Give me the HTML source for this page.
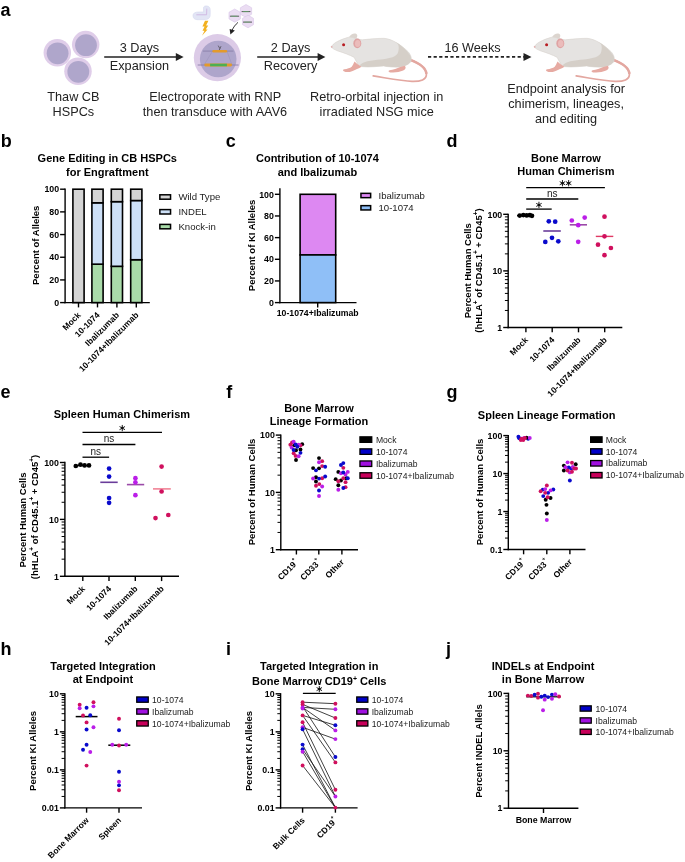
<!DOCTYPE html>
<html><head><meta charset="utf-8"><style>
html,body{margin:0;padding:0;background:#fff;width:685px;height:862px;overflow:hidden}
svg{display:block;will-change:transform}
text{font-family:"Liberation Sans", sans-serif}
</style></head><body>
<svg width="685" height="862" viewBox="0 0 685 862" font-family='"Liberation Sans", sans-serif'>
<rect width="685" height="862" fill="#fff"/>
<text x="0.50" y="15.80" font-size="18" font-weight="700" text-anchor="start" fill="#000" >a</text>
<circle cx="57.30" cy="52.70" r="13.75" fill="#dfcde9"/>
<circle cx="57.60" cy="53.30" r="10.9" fill="#afa6cb"/>
<circle cx="85.70" cy="44.60" r="13.75" fill="#dfcde9"/>
<circle cx="86.00" cy="45.20" r="10.9" fill="#afa6cb"/>
<circle cx="78.00" cy="71.20" r="13.75" fill="#dfcde9"/>
<circle cx="78.30" cy="71.80" r="10.9" fill="#afa6cb"/>
<text x="73.40" y="100.60" font-size="12.7" font-weight="400" text-anchor="middle" fill="#222" >Thaw CB</text>
<text x="73.40" y="116.00" font-size="12.7" font-weight="400" text-anchor="middle" fill="#222" >HSPCs</text>
<line x1="104.20" y1="57.00" x2="178.60" y2="57.00" stroke="#222" stroke-width="1.6" />
<path d="M183.60,57.00 L175.80,53.10 L175.80,60.90 Z" fill="#222"/>
<text x="139.40" y="52.20" font-size="12.7" font-weight="400" text-anchor="middle" fill="#222" >3 Days</text>
<text x="139.40" y="70.30" font-size="12.7" font-weight="400" text-anchor="middle" fill="#222" >Expansion</text>
<line x1="257.20" y1="57.00" x2="320.40" y2="57.00" stroke="#222" stroke-width="1.6" />
<path d="M325.40,57.00 L317.60,53.10 L317.60,60.90 Z" fill="#222"/>
<text x="290.60" y="52.20" font-size="12.7" font-weight="400" text-anchor="middle" fill="#222" >2 Days</text>
<text x="290.60" y="70.30" font-size="12.7" font-weight="400" text-anchor="middle" fill="#222" >Recovery</text>
<line x1="428" y1="56.9" x2="524" y2="56.9" stroke="#222" stroke-width="1.6" stroke-dasharray="3.2,2.4"/>
<path d="M531.5,56.9 L523.5,52.9 L523.5,60.9 Z" fill="#222"/>
<text x="472.50" y="51.50" font-size="12.7" font-weight="400" text-anchor="middle" fill="#222" >16 Weeks</text>
<text x="215.20" y="100.90" font-size="12.7" font-weight="400" text-anchor="middle" fill="#222" >Electroporate with RNP</text>
<text x="215.00" y="115.90" font-size="12.7" font-weight="400" text-anchor="middle" fill="#222" >then transduce with AAV6</text>
<text x="376.70" y="100.60" font-size="12.7" font-weight="400" text-anchor="middle" fill="#222" >Retro-orbital injection in</text>
<text x="376.70" y="115.90" font-size="12.7" font-weight="400" text-anchor="middle" fill="#222" >irradiated NSG mice</text>
<text x="566.10" y="92.50" font-size="12.7" font-weight="400" text-anchor="middle" fill="#222" >Endpoint analysis for</text>
<text x="566.10" y="108.00" font-size="12.7" font-weight="400" text-anchor="middle" fill="#222" >chimerism, lineages,</text>
<text x="566.10" y="123.20" font-size="12.7" font-weight="400" text-anchor="middle" fill="#222" >and editing</text>
<circle cx="217.40" cy="57.70" r="23.6" fill="#dccbe7"/>
<circle cx="218.20" cy="59.00" r="18.3" fill="#aea5cb"/>
<path d="M212.5,51.2 L204,65 M227,51.2 L232,65" stroke="#9a90b8" stroke-width="0.5" fill="none"/>
<line x1="202.80" y1="51.10" x2="233.50" y2="51.10" stroke="#8a80a8" stroke-width="0.9" />
<rect x="212.3" y="49.9" width="14.9" height="2.6" rx="1.2" fill="#e39a2c"/>
<path d="M219.3,50 L221,46.2 M219.8,48.5 L218.2,45.6" stroke="#333" stroke-width="0.6" fill="none"/>
<line x1="197.70" y1="65.00" x2="238.60" y2="65.00" stroke="#8a80a8" stroke-width="0.9" />
<rect x="204.3" y="63.6" width="27.7" height="2.8" rx="1.3" fill="#e39a2c"/>
<rect x="210.1" y="63.7" width="16.8" height="2.6" fill="#4caf50"/>
<path d="M193,15.6 C193,12.6 196,11.9 200,12 L203.6,12 L203.5,8 C203.5,6.1 205.4,5.8 207,6 C209.4,6.3 210.2,8 210.2,10.2 L210.2,14.6 C210.2,18.2 208,19.7 204,19.7 L197.2,19.7 C194.6,19.7 193,18.1 193,15.6 Z" fill="#e2e5f5" stroke="#d3d6ee" stroke-width="0.6"/>
<path d="M196.3,14.8 L206.6,14.8 L206.8,8.6" stroke="#cfb6e2" stroke-width="0.9" fill="none"/>
<path d="M205.0,20.8 L208.4,20.8 L206.1,25.4 L208.2,25.4 L205.7,29.6 L207.6,29.6 L202.0,35.8 L204.5,30.8 L202.5,30.8 L204.6,26.6 L202.4,26.6 Z" fill="#f2b01e"/>
<polygon points="234.70,22.20 228.98,18.90 228.98,12.30 234.70,9.00 240.42,12.30 240.42,18.90" fill="#ebddf3" stroke="#d9c6e8" stroke-width="0.6"/>
<line x1="229.90" y1="16.20" x2="239.10" y2="16.20" stroke="#333" stroke-width="0.8"/>
<line x1="231.10" y1="16.20" x2="237.50" y2="16.20" stroke="#5fb866" stroke-width="0.6"/>
<polygon points="246.00,17.50 240.37,14.25 240.37,7.75 246.00,4.50 251.63,7.75 251.63,14.25" fill="#ebddf3" stroke="#d9c6e8" stroke-width="0.6"/>
<line x1="241.60" y1="11.60" x2="250.40" y2="11.60" stroke="#333" stroke-width="0.8"/>
<line x1="242.80" y1="11.60" x2="248.80" y2="11.60" stroke="#5fb866" stroke-width="0.6"/>
<polygon points="248.00,27.80 242.54,24.65 242.54,18.35 248.00,15.20 253.46,18.35 253.46,24.65" fill="#ebddf3" stroke="#d9c6e8" stroke-width="0.6"/>
<line x1="243.00" y1="22.10" x2="252.00" y2="22.10" stroke="#333" stroke-width="0.8"/>
<line x1="244.20" y1="22.10" x2="250.40" y2="22.10" stroke="#5fb866" stroke-width="0.6"/>
<path d="M238.0,22.4 C235.5,24.5 233.2,27.5 232.2,30.2" stroke="#222" stroke-width="0.9" fill="none"/>
<path d="M230.4,34.4 L229.6,29.0 L234.9,30.6 Z" fill="#222"/>
<g>
<path d="M409.6,59.6 C419,63 426,67.8 426.4,73.8 C426.8,79.8 420.5,81.6 412,81.4 C402,81 390,78.6 373.2,75.9" stroke="#e3a7a0" stroke-width="1.7" fill="none" stroke-linecap="round"/><path d="M409.6,59.6 C419,63 426,67.8 426.4,73.8" stroke="#e3a7a0" stroke-width="2.5" fill="none"/>
<path d="M331.3,46.8 C333,43.5 338,40.7 344.2,38.6 C346,38 348.5,37.3 349.9,36.8 C354,37.5 358,39.6 362.2,39.8 C368,39.3 376,38.3 383.8,38.3 C392,38.8 401,44.8 408.3,51.9 C411,55 412.2,59 410.7,61.7 C409.2,63.8 406.8,65.3 401.3,66.9 C395,67.7 388,66.7 383.8,66 C378,66.1 370,67.7 361.3,66.6 L358.2,64.6 C356.4,62.2 355.3,59.4 354.2,57.4 C350.2,55.2 343.4,52.7 338,51 C335,49.9 332.1,48.5 331.3,46.8 Z" fill="#e5e3e1" stroke="#d3ccc6" stroke-width="0.5"/>
<path d="M395.2,41.8 C402,45.8 408,51.5 410.5,56 C411.6,59 411.2,61 410.2,62.2 C408.6,64.2 406.6,65.3 401.3,66.8 C395,67.6 388,66.6 383.8,65.9 C378,66 370,67.6 361.3,66.5 L359.6,65.2 C361.3,63.6 364.5,62 367.4,61.3 C372,60.3 376,60 380.6,59.5 C384,59 388,58.4 392.5,57.2 C395.5,56 397.6,54.5 398,52.6 C398.8,50 398.9,47.5 398.5,45.5 C397.8,43.6 396.8,42.6 395.2,41.8 Z" fill="#d5cfc8"/>
<path d="M354.6,61.6 C356.4,63.8 359,65.3 361.3,66.6 C360.8,67.8 357,69.2 352,71.2 C349,72.3 346,72.4 343.8,71.2 C342.6,70.5 342.9,69.4 344.3,69.2 C347.3,69 350,68.1 351.7,66.8 C353,65.3 353.6,63.4 354.6,61.6 Z" fill="#e6aaa2"/>
<path d="M404.8,65.8 C406.3,67.2 405.9,69.2 403.2,70.6 C399.4,72.2 394.6,73 390.2,72.4 C388.2,71.9 387.9,70.5 389.6,70.2 C393.2,69.7 397.2,68.6 400.2,67 Z" fill="#e6aaa2"/>
<path d="M349.4,37.1 C350.4,34.6 352.8,33.2 355.4,33.5 C357.6,33.9 357.8,36.4 356.2,38.6 Z" fill="#dcd5cf"/>
<ellipse cx="357.3" cy="43.4" rx="4.0" ry="4.8" fill="#dfa3a3"/>
<ellipse cx="357.7" cy="43.6" rx="2.7" ry="3.5" fill="#ebbcbb"/>
<circle cx="343.6" cy="44.8" r="1.5" fill="#b81c22"/>
<circle cx="331.7" cy="46.8" r="0.9" fill="#e4b0ae"/>
</g>
<g transform="translate(203,0)">
<path d="M409.6,59.6 C419,63 426,67.8 426.4,73.8 C426.8,79.8 420.5,81.6 412,81.4 C402,81 390,78.6 373.2,75.9" stroke="#e3a7a0" stroke-width="1.7" fill="none" stroke-linecap="round"/><path d="M409.6,59.6 C419,63 426,67.8 426.4,73.8" stroke="#e3a7a0" stroke-width="2.5" fill="none"/>
<path d="M331.3,46.8 C333,43.5 338,40.7 344.2,38.6 C346,38 348.5,37.3 349.9,36.8 C354,37.5 358,39.6 362.2,39.8 C368,39.3 376,38.3 383.8,38.3 C392,38.8 401,44.8 408.3,51.9 C411,55 412.2,59 410.7,61.7 C409.2,63.8 406.8,65.3 401.3,66.9 C395,67.7 388,66.7 383.8,66 C378,66.1 370,67.7 361.3,66.6 L358.2,64.6 C356.4,62.2 355.3,59.4 354.2,57.4 C350.2,55.2 343.4,52.7 338,51 C335,49.9 332.1,48.5 331.3,46.8 Z" fill="#e5e3e1" stroke="#d3ccc6" stroke-width="0.5"/>
<path d="M395.2,41.8 C402,45.8 408,51.5 410.5,56 C411.6,59 411.2,61 410.2,62.2 C408.6,64.2 406.6,65.3 401.3,66.8 C395,67.6 388,66.6 383.8,65.9 C378,66 370,67.6 361.3,66.5 L359.6,65.2 C361.3,63.6 364.5,62 367.4,61.3 C372,60.3 376,60 380.6,59.5 C384,59 388,58.4 392.5,57.2 C395.5,56 397.6,54.5 398,52.6 C398.8,50 398.9,47.5 398.5,45.5 C397.8,43.6 396.8,42.6 395.2,41.8 Z" fill="#d5cfc8"/>
<path d="M354.6,61.6 C356.4,63.8 359,65.3 361.3,66.6 C360.8,67.8 357,69.2 352,71.2 C349,72.3 346,72.4 343.8,71.2 C342.6,70.5 342.9,69.4 344.3,69.2 C347.3,69 350,68.1 351.7,66.8 C353,65.3 353.6,63.4 354.6,61.6 Z" fill="#e6aaa2"/>
<path d="M404.8,65.8 C406.3,67.2 405.9,69.2 403.2,70.6 C399.4,72.2 394.6,73 390.2,72.4 C388.2,71.9 387.9,70.5 389.6,70.2 C393.2,69.7 397.2,68.6 400.2,67 Z" fill="#e6aaa2"/>
<path d="M349.4,37.1 C350.4,34.6 352.8,33.2 355.4,33.5 C357.6,33.9 357.8,36.4 356.2,38.6 Z" fill="#dcd5cf"/>
<ellipse cx="357.3" cy="43.4" rx="4.0" ry="4.8" fill="#dfa3a3"/>
<ellipse cx="357.7" cy="43.6" rx="2.7" ry="3.5" fill="#ebbcbb"/>
<circle cx="343.6" cy="44.8" r="1.5" fill="#b81c22"/>
<circle cx="331.7" cy="46.8" r="0.9" fill="#e4b0ae"/>
</g>
<text x="0.80" y="146.80" font-size="18" font-weight="700" text-anchor="start" fill="#000" >b</text>
<text x="107.30" y="162.40" font-size="11" font-weight="700" text-anchor="middle" fill="#000" >Gene Editing in CB HSPCs</text>
<text x="107.30" y="175.90" font-size="11" font-weight="700" text-anchor="middle" fill="#000" >for Engraftment</text>
<line x1="65.10" y1="188.55" x2="65.10" y2="303.25" stroke="#000" stroke-width="1.4" />
<line x1="64.45" y1="302.60" x2="149.80" y2="302.60" stroke="#000" stroke-width="1.4" />
<line x1="60.10" y1="302.60" x2="65.10" y2="302.60" stroke="#000" stroke-width="1.4" />
<text x="59.10" y="305.80" font-size="8.8" font-weight="700" text-anchor="end" fill="#000" >0</text>
<line x1="60.10" y1="279.92" x2="65.10" y2="279.92" stroke="#000" stroke-width="1.4" />
<text x="59.10" y="283.12" font-size="8.8" font-weight="700" text-anchor="end" fill="#000" >20</text>
<line x1="60.10" y1="257.24" x2="65.10" y2="257.24" stroke="#000" stroke-width="1.4" />
<text x="59.10" y="260.44" font-size="8.8" font-weight="700" text-anchor="end" fill="#000" >40</text>
<line x1="60.10" y1="234.56" x2="65.10" y2="234.56" stroke="#000" stroke-width="1.4" />
<text x="59.10" y="237.76" font-size="8.8" font-weight="700" text-anchor="end" fill="#000" >60</text>
<line x1="60.10" y1="211.88" x2="65.10" y2="211.88" stroke="#000" stroke-width="1.4" />
<text x="59.10" y="215.08" font-size="8.8" font-weight="700" text-anchor="end" fill="#000" >80</text>
<line x1="60.10" y1="189.20" x2="65.10" y2="189.20" stroke="#000" stroke-width="1.4" />
<text x="59.10" y="192.40" font-size="8.8" font-weight="700" text-anchor="end" fill="#000" >100</text>
<rect x="72.90" y="189.20" width="11.20" height="113.40" fill="#d4d4d4" stroke="#000" stroke-width="1.6"/>
<rect x="91.90" y="264.16" width="11.20" height="38.44" fill="#a9dba9" stroke="#000" stroke-width="1.6"/>
<rect x="91.90" y="202.81" width="11.20" height="61.35" fill="#cde0f7" stroke="#000" stroke-width="1.6"/>
<rect x="91.90" y="189.20" width="11.20" height="13.61" fill="#d4d4d4" stroke="#000" stroke-width="1.6"/>
<rect x="111.30" y="266.31" width="11.20" height="36.29" fill="#a9dba9" stroke="#000" stroke-width="1.6"/>
<rect x="111.30" y="201.67" width="11.20" height="64.64" fill="#cde0f7" stroke="#000" stroke-width="1.6"/>
<rect x="111.30" y="189.20" width="11.20" height="12.47" fill="#d4d4d4" stroke="#000" stroke-width="1.6"/>
<rect x="130.70" y="259.73" width="11.20" height="42.87" fill="#a9dba9" stroke="#000" stroke-width="1.6"/>
<rect x="130.70" y="200.54" width="11.20" height="59.19" fill="#cde0f7" stroke="#000" stroke-width="1.6"/>
<rect x="130.70" y="189.20" width="11.20" height="11.34" fill="#d4d4d4" stroke="#000" stroke-width="1.6"/>
<line x1="78.50" y1="302.60" x2="78.50" y2="307.40" stroke="#000" stroke-width="1.4" />
<line x1="97.50" y1="302.60" x2="97.50" y2="307.40" stroke="#000" stroke-width="1.4" />
<line x1="116.90" y1="302.60" x2="116.90" y2="307.40" stroke="#000" stroke-width="1.4" />
<line x1="136.30" y1="302.60" x2="136.30" y2="307.40" stroke="#000" stroke-width="1.4" />
<text x="81.30" y="315.60" font-size="8.5" font-weight="700" text-anchor="end" fill="#000" transform="rotate(-45 81.30 315.60)" >Mock</text>
<text x="100.30" y="315.60" font-size="8.5" font-weight="700" text-anchor="end" fill="#000" transform="rotate(-45 100.30 315.60)" >10-1074</text>
<text x="119.70" y="315.60" font-size="8.5" font-weight="700" text-anchor="end" fill="#000" transform="rotate(-45 119.70 315.60)" >Ibalizumab</text>
<text x="139.10" y="315.60" font-size="8.5" font-weight="700" text-anchor="end" fill="#000" transform="rotate(-45 139.10 315.60)" >10-1074+Ibalizumab</text>
<text x="38.80" y="245.30" font-size="9.5" font-weight="700" text-anchor="middle" fill="#000" transform="rotate(-90 38.80 245.30)" >Percent of Alleles</text>
<rect x="159.85" y="194.80" width="10.70" height="4.40" fill="#d4d4d4" stroke="#000" stroke-width="1.5"/>
<text x="178.40" y="200.10" font-size="9.6" font-weight="400" text-anchor="start" fill="#222" >Wild Type</text>
<rect x="159.85" y="209.60" width="10.70" height="4.40" fill="#cde0f7" stroke="#000" stroke-width="1.5"/>
<text x="178.40" y="214.90" font-size="9.6" font-weight="400" text-anchor="start" fill="#222" >INDEL</text>
<rect x="159.85" y="224.40" width="10.70" height="4.40" fill="#a9dba9" stroke="#000" stroke-width="1.5"/>
<text x="178.40" y="229.70" font-size="9.6" font-weight="400" text-anchor="start" fill="#222" >Knock-in</text>
<text x="225.80" y="146.80" font-size="18" font-weight="700" text-anchor="start" fill="#000" >c</text>
<text x="317.40" y="162.40" font-size="11" font-weight="700" text-anchor="middle" fill="#000" >Contribution of 10-1074</text>
<text x="317.40" y="175.90" font-size="11" font-weight="700" text-anchor="middle" fill="#000" >and Ibalizumab</text>
<line x1="279.90" y1="188.20" x2="279.90" y2="303.25" stroke="#000" stroke-width="1.4" />
<line x1="279.25" y1="302.60" x2="356.50" y2="302.60" stroke="#000" stroke-width="1.4" />
<line x1="274.90" y1="302.60" x2="279.90" y2="302.60" stroke="#000" stroke-width="1.4" />
<text x="273.90" y="305.80" font-size="8.8" font-weight="700" text-anchor="end" fill="#000" >0</text>
<line x1="274.90" y1="280.94" x2="279.90" y2="280.94" stroke="#000" stroke-width="1.4" />
<text x="273.90" y="284.14" font-size="8.8" font-weight="700" text-anchor="end" fill="#000" >20</text>
<line x1="274.90" y1="259.28" x2="279.90" y2="259.28" stroke="#000" stroke-width="1.4" />
<text x="273.90" y="262.48" font-size="8.8" font-weight="700" text-anchor="end" fill="#000" >40</text>
<line x1="274.90" y1="237.62" x2="279.90" y2="237.62" stroke="#000" stroke-width="1.4" />
<text x="273.90" y="240.82" font-size="8.8" font-weight="700" text-anchor="end" fill="#000" >60</text>
<line x1="274.90" y1="215.96" x2="279.90" y2="215.96" stroke="#000" stroke-width="1.4" />
<text x="273.90" y="219.16" font-size="8.8" font-weight="700" text-anchor="end" fill="#000" >80</text>
<line x1="274.90" y1="194.30" x2="279.90" y2="194.30" stroke="#000" stroke-width="1.4" />
<text x="273.90" y="197.50" font-size="8.8" font-weight="700" text-anchor="end" fill="#000" >100</text>
<rect x="300.10" y="194.30" width="35.60" height="60.65" fill="#dd88f2" stroke="#000" stroke-width="1.6"/>
<rect x="300.10" y="254.95" width="35.60" height="47.65" fill="#8fbff7" stroke="#000" stroke-width="1.6"/>
<line x1="317.70" y1="302.60" x2="317.70" y2="307.40" stroke="#000" stroke-width="1.4" />
<text x="317.70" y="316.40" font-size="8.7" font-weight="700" text-anchor="middle" fill="#000" >10-1074+Ibalizumab</text>
<text x="255.00" y="245.40" font-size="9.5" font-weight="700" text-anchor="middle" fill="#000" transform="rotate(-90 255.00 245.40)" >Percent of KI Alleles</text>
<rect x="360.95" y="193.35" width="9.70" height="4.30" fill="#dd88f2" stroke="#000" stroke-width="1.5"/>
<text x="378.50" y="198.60" font-size="9.6" font-weight="400" text-anchor="start" fill="#222" >Ibalizumab</text>
<rect x="360.95" y="205.65" width="9.70" height="4.30" fill="#8fbff7" stroke="#000" stroke-width="1.5"/>
<text x="378.50" y="210.90" font-size="9.6" font-weight="400" text-anchor="start" fill="#222" >10-1074</text>
<text x="446.50" y="146.80" font-size="18" font-weight="700" text-anchor="start" fill="#000" >d</text>
<text x="565.90" y="162.00" font-size="11" font-weight="700" text-anchor="middle" fill="#000" >Bone Marrow</text>
<text x="565.90" y="175.20" font-size="11" font-weight="700" text-anchor="middle" fill="#000" >Human Chimerism</text>
<line x1="508.20" y1="213.65" x2="508.20" y2="328.15" stroke="#000" stroke-width="1.4" />
<line x1="507.55" y1="327.50" x2="622.30" y2="327.50" stroke="#000" stroke-width="1.4" />
<line x1="503.20" y1="327.50" x2="508.20" y2="327.50" stroke="#000" stroke-width="1.4" />
<text x="502.20" y="330.70" font-size="8.8" font-weight="700" text-anchor="end" fill="#000" >1</text>
<line x1="504.90" y1="310.46" x2="508.20" y2="310.46" stroke="#000" stroke-width="1.0" />
<line x1="504.90" y1="300.49" x2="508.20" y2="300.49" stroke="#000" stroke-width="1.0" />
<line x1="504.90" y1="293.42" x2="508.20" y2="293.42" stroke="#000" stroke-width="1.0" />
<line x1="504.90" y1="287.94" x2="508.20" y2="287.94" stroke="#000" stroke-width="1.0" />
<line x1="504.90" y1="283.46" x2="508.20" y2="283.46" stroke="#000" stroke-width="1.0" />
<line x1="504.90" y1="279.67" x2="508.20" y2="279.67" stroke="#000" stroke-width="1.0" />
<line x1="504.90" y1="276.39" x2="508.20" y2="276.39" stroke="#000" stroke-width="1.0" />
<line x1="504.90" y1="273.49" x2="508.20" y2="273.49" stroke="#000" stroke-width="1.0" />
<line x1="503.20" y1="270.90" x2="508.20" y2="270.90" stroke="#000" stroke-width="1.4" />
<text x="502.20" y="274.10" font-size="8.8" font-weight="700" text-anchor="end" fill="#000" >10</text>
<line x1="504.90" y1="253.86" x2="508.20" y2="253.86" stroke="#000" stroke-width="1.0" />
<line x1="504.90" y1="243.89" x2="508.20" y2="243.89" stroke="#000" stroke-width="1.0" />
<line x1="504.90" y1="236.82" x2="508.20" y2="236.82" stroke="#000" stroke-width="1.0" />
<line x1="504.90" y1="231.34" x2="508.20" y2="231.34" stroke="#000" stroke-width="1.0" />
<line x1="504.90" y1="226.86" x2="508.20" y2="226.86" stroke="#000" stroke-width="1.0" />
<line x1="504.90" y1="223.07" x2="508.20" y2="223.07" stroke="#000" stroke-width="1.0" />
<line x1="504.90" y1="219.79" x2="508.20" y2="219.79" stroke="#000" stroke-width="1.0" />
<line x1="504.90" y1="216.89" x2="508.20" y2="216.89" stroke="#000" stroke-width="1.0" />
<line x1="503.20" y1="214.30" x2="508.20" y2="214.30" stroke="#000" stroke-width="1.4" />
<text x="502.20" y="217.50" font-size="8.8" font-weight="700" text-anchor="end" fill="#000" >100</text>
<line x1="525.90" y1="327.50" x2="525.90" y2="332.30" stroke="#000" stroke-width="1.4" />
<line x1="552.20" y1="327.50" x2="552.20" y2="332.30" stroke="#000" stroke-width="1.4" />
<line x1="578.50" y1="327.50" x2="578.50" y2="332.30" stroke="#000" stroke-width="1.4" />
<line x1="604.70" y1="327.50" x2="604.70" y2="332.30" stroke="#000" stroke-width="1.4" />
<text x="528.70" y="340.50" font-size="8.5" font-weight="700" text-anchor="end" fill="#000" transform="rotate(-45 528.70 340.50)" >Mock</text>
<text x="555.00" y="340.50" font-size="8.5" font-weight="700" text-anchor="end" fill="#000" transform="rotate(-45 555.00 340.50)" >10-1074</text>
<text x="581.30" y="340.50" font-size="8.5" font-weight="700" text-anchor="end" fill="#000" transform="rotate(-45 581.30 340.50)" >Ibalizumab</text>
<text x="607.50" y="340.50" font-size="8.5" font-weight="700" text-anchor="end" fill="#000" transform="rotate(-45 607.50 340.50)" >10-1074+Ibalizumab</text>
<line x1="517.00" y1="215.60" x2="534.00" y2="215.60" stroke="#000" stroke-width="1.5" />
<circle cx="519.70" cy="215.60" r="2.35" fill="#000"/>
<circle cx="523.30" cy="215.10" r="2.35" fill="#000"/>
<circle cx="526.70" cy="215.40" r="2.35" fill="#000"/>
<circle cx="529.90" cy="215.20" r="2.35" fill="#000"/>
<circle cx="532.00" cy="215.80" r="2.35" fill="#000"/>
<line x1="543.30" y1="231.00" x2="560.80" y2="231.00" stroke="#6a3c9a" stroke-width="1.6" />
<circle cx="548.80" cy="221.30" r="2.35" fill="#0a0acc"/>
<circle cx="555.20" cy="221.70" r="2.35" fill="#0a0acc"/>
<circle cx="552.00" cy="237.80" r="2.35" fill="#0a0acc"/>
<circle cx="545.30" cy="241.90" r="2.35" fill="#0a0acc"/>
<circle cx="558.30" cy="241.30" r="2.35" fill="#0a0acc"/>
<line x1="569.80" y1="224.80" x2="587.00" y2="224.80" stroke="#9b4aa8" stroke-width="1.6" />
<circle cx="571.80" cy="220.50" r="2.35" fill="#bb1ee8"/>
<circle cx="584.70" cy="217.60" r="2.35" fill="#bb1ee8"/>
<circle cx="578.20" cy="225.20" r="2.35" fill="#bb1ee8"/>
<circle cx="578.20" cy="241.80" r="2.35" fill="#bb1ee8"/>
<line x1="595.80" y1="236.40" x2="613.30" y2="236.40" stroke="#e03a64" stroke-width="1.4" />
<circle cx="604.50" cy="216.70" r="2.35" fill="#d0105e"/>
<circle cx="604.50" cy="236.30" r="2.35" fill="#d0105e"/>
<circle cx="598.00" cy="244.70" r="2.35" fill="#d0105e"/>
<circle cx="610.90" cy="248.00" r="2.35" fill="#d0105e"/>
<circle cx="604.50" cy="255.20" r="2.35" fill="#d0105e"/>
<line x1="526.20" y1="209.10" x2="551.70" y2="209.10" stroke="#000" stroke-width="1.3" />
<path d="M538.95,202.15 L538.95,207.65 M536.57,203.53 L541.33,206.28 M541.33,203.53 L536.57,206.28 " stroke="#111" stroke-width="0.95" fill="none" stroke-linecap="round"/>
<circle cx="538.95" cy="204.90" r="1.25" fill="#111"/>
<line x1="526.20" y1="199.00" x2="578.30" y2="199.00" stroke="#000" stroke-width="1.3" />
<text x="552.25" y="196.70" font-size="10" font-weight="400" text-anchor="middle" fill="#222" >ns</text>
<line x1="526.20" y1="187.60" x2="604.90" y2="187.60" stroke="#000" stroke-width="1.3" />
<path d="M562.45,180.45 L562.45,185.95 M560.07,181.82 L564.83,184.57 M564.83,181.82 L560.07,184.57 " stroke="#111" stroke-width="0.95" fill="none" stroke-linecap="round"/>
<circle cx="562.45" cy="183.20" r="1.25" fill="#111"/>
<path d="M568.65,180.45 L568.65,185.95 M566.27,181.82 L571.03,184.57 M571.03,181.82 L566.27,184.57 " stroke="#111" stroke-width="0.95" fill="none" stroke-linecap="round"/>
<circle cx="568.65" cy="183.20" r="1.25" fill="#111"/>
<text x="470.60" y="270.70" font-size="9.5" font-weight="700" text-anchor="middle" fill="#000" transform="rotate(-90 470.60 270.70)" >Percent Human Cells</text>
<text x="482.00" y="270.50" font-size="9.5" font-weight="700" text-anchor="middle" transform="rotate(-90 482.00 270.50)">(hHLA<tspan font-size="6.3" dy="-4.3">+</tspan><tspan dy="4.3"> of CD45.1</tspan><tspan font-size="6.3" dy="-4.3">+</tspan><tspan dy="4.3"> + CD45</tspan><tspan font-size="6.3" dy="-4.3">+</tspan><tspan dy="4.3">)</tspan></text>
<text x="0.50" y="397.50" font-size="18" font-weight="700" text-anchor="start" fill="#000" >e</text>
<text x="121.90" y="418.30" font-size="11" font-weight="700" text-anchor="middle" fill="#000" >Spleen Human Chimerism</text>
<line x1="64.90" y1="461.85" x2="64.90" y2="576.95" stroke="#000" stroke-width="1.4" />
<line x1="64.25" y1="576.30" x2="179.00" y2="576.30" stroke="#000" stroke-width="1.4" />
<line x1="59.90" y1="576.30" x2="64.90" y2="576.30" stroke="#000" stroke-width="1.4" />
<text x="58.90" y="579.50" font-size="8.8" font-weight="700" text-anchor="end" fill="#000" >1</text>
<line x1="61.60" y1="559.17" x2="64.90" y2="559.17" stroke="#000" stroke-width="1.0" />
<line x1="61.60" y1="549.15" x2="64.90" y2="549.15" stroke="#000" stroke-width="1.0" />
<line x1="61.60" y1="542.04" x2="64.90" y2="542.04" stroke="#000" stroke-width="1.0" />
<line x1="61.60" y1="536.53" x2="64.90" y2="536.53" stroke="#000" stroke-width="1.0" />
<line x1="61.60" y1="532.02" x2="64.90" y2="532.02" stroke="#000" stroke-width="1.0" />
<line x1="61.60" y1="528.21" x2="64.90" y2="528.21" stroke="#000" stroke-width="1.0" />
<line x1="61.60" y1="524.91" x2="64.90" y2="524.91" stroke="#000" stroke-width="1.0" />
<line x1="61.60" y1="522.00" x2="64.90" y2="522.00" stroke="#000" stroke-width="1.0" />
<line x1="59.90" y1="519.40" x2="64.90" y2="519.40" stroke="#000" stroke-width="1.4" />
<text x="58.90" y="522.60" font-size="8.8" font-weight="700" text-anchor="end" fill="#000" >10</text>
<line x1="61.60" y1="502.27" x2="64.90" y2="502.27" stroke="#000" stroke-width="1.0" />
<line x1="61.60" y1="492.25" x2="64.90" y2="492.25" stroke="#000" stroke-width="1.0" />
<line x1="61.60" y1="485.14" x2="64.90" y2="485.14" stroke="#000" stroke-width="1.0" />
<line x1="61.60" y1="479.63" x2="64.90" y2="479.63" stroke="#000" stroke-width="1.0" />
<line x1="61.60" y1="475.12" x2="64.90" y2="475.12" stroke="#000" stroke-width="1.0" />
<line x1="61.60" y1="471.31" x2="64.90" y2="471.31" stroke="#000" stroke-width="1.0" />
<line x1="61.60" y1="468.01" x2="64.90" y2="468.01" stroke="#000" stroke-width="1.0" />
<line x1="61.60" y1="465.10" x2="64.90" y2="465.10" stroke="#000" stroke-width="1.0" />
<line x1="59.90" y1="462.50" x2="64.90" y2="462.50" stroke="#000" stroke-width="1.4" />
<text x="58.90" y="465.70" font-size="8.8" font-weight="700" text-anchor="end" fill="#000" >100</text>
<line x1="82.80" y1="576.30" x2="82.80" y2="581.10" stroke="#000" stroke-width="1.4" />
<line x1="109.00" y1="576.30" x2="109.00" y2="581.10" stroke="#000" stroke-width="1.4" />
<line x1="135.30" y1="576.30" x2="135.30" y2="581.10" stroke="#000" stroke-width="1.4" />
<line x1="161.60" y1="576.30" x2="161.60" y2="581.10" stroke="#000" stroke-width="1.4" />
<text x="85.60" y="589.30" font-size="8.5" font-weight="700" text-anchor="end" fill="#000" transform="rotate(-45 85.60 589.30)" >Mock</text>
<text x="111.80" y="589.30" font-size="8.5" font-weight="700" text-anchor="end" fill="#000" transform="rotate(-45 111.80 589.30)" >10-1074</text>
<text x="138.10" y="589.30" font-size="8.5" font-weight="700" text-anchor="end" fill="#000" transform="rotate(-45 138.10 589.30)" >Ibalizumab</text>
<text x="164.40" y="589.30" font-size="8.5" font-weight="700" text-anchor="end" fill="#000" transform="rotate(-45 164.40 589.30)" >10-1074+Ibalizumab</text>
<line x1="74.00" y1="465.60" x2="91.00" y2="465.60" stroke="#000" stroke-width="1.5" />
<circle cx="75.80" cy="466.00" r="2.35" fill="#000"/>
<circle cx="80.50" cy="464.60" r="2.35" fill="#000"/>
<circle cx="84.60" cy="465.40" r="2.35" fill="#000"/>
<circle cx="89.00" cy="465.40" r="2.35" fill="#000"/>
<line x1="100.30" y1="482.30" x2="117.70" y2="482.30" stroke="#6a3c9a" stroke-width="1.6" />
<circle cx="109.10" cy="468.60" r="2.35" fill="#0a0acc"/>
<circle cx="109.10" cy="476.60" r="2.35" fill="#0a0acc"/>
<circle cx="109.10" cy="498.00" r="2.35" fill="#0a0acc"/>
<circle cx="109.10" cy="502.80" r="2.35" fill="#0a0acc"/>
<line x1="126.90" y1="484.60" x2="144.20" y2="484.60" stroke="#9b4aa8" stroke-width="1.6" />
<circle cx="135.40" cy="478.20" r="2.35" fill="#bb1ee8"/>
<circle cx="135.40" cy="482.30" r="2.35" fill="#bb1ee8"/>
<circle cx="135.40" cy="495.20" r="2.35" fill="#bb1ee8"/>
<line x1="153.00" y1="488.90" x2="170.80" y2="488.90" stroke="#f07a8e" stroke-width="1.5" />
<circle cx="161.60" cy="466.60" r="2.35" fill="#d0105e"/>
<circle cx="161.60" cy="491.50" r="2.35" fill="#d0105e"/>
<circle cx="155.50" cy="518.10" r="2.35" fill="#d0105e"/>
<circle cx="168.30" cy="515.00" r="2.35" fill="#d0105e"/>
<line x1="82.50" y1="457.20" x2="109.10" y2="457.20" stroke="#000" stroke-width="1.3" />
<text x="95.80" y="454.90" font-size="10" font-weight="400" text-anchor="middle" fill="#222" >ns</text>
<line x1="82.50" y1="444.50" x2="135.40" y2="444.50" stroke="#000" stroke-width="1.3" />
<text x="108.95" y="442.20" font-size="10" font-weight="400" text-anchor="middle" fill="#222" >ns</text>
<line x1="82.50" y1="432.30" x2="162.00" y2="432.30" stroke="#000" stroke-width="1.3" />
<path d="M122.25,425.35 L122.25,430.85 M119.87,426.73 L124.63,429.48 M124.63,426.73 L119.87,429.48 " stroke="#111" stroke-width="0.95" fill="none" stroke-linecap="round"/>
<circle cx="122.25" cy="428.10" r="1.25" fill="#111"/>
<text x="26.00" y="520.00" font-size="9.5" font-weight="700" text-anchor="middle" fill="#000" transform="rotate(-90 26.00 520.00)" >Percent Human Cells</text>
<text x="38.00" y="517.00" font-size="9.5" font-weight="700" text-anchor="middle" transform="rotate(-90 38.00 517.00)">(hHLA<tspan font-size="6.3" dy="-4.3">+</tspan><tspan dy="4.3"> of CD45.1</tspan><tspan font-size="6.3" dy="-4.3">+</tspan><tspan dy="4.3"> + CD45</tspan><tspan font-size="6.3" dy="-4.3">+</tspan><tspan dy="4.3">)</tspan></text>
<text x="226.30" y="397.50" font-size="18" font-weight="700" text-anchor="start" fill="#000" >f</text>
<text x="319.00" y="411.80" font-size="11" font-weight="700" text-anchor="middle" fill="#000" >Bone Marrow</text>
<text x="319.00" y="424.80" font-size="11" font-weight="700" text-anchor="middle" fill="#000" >Lineage Formation</text>
<line x1="280.80" y1="434.45" x2="280.80" y2="550.35" stroke="#000" stroke-width="1.4" />
<line x1="280.15" y1="549.70" x2="358.00" y2="549.70" stroke="#000" stroke-width="1.4" />
<line x1="275.80" y1="549.70" x2="280.80" y2="549.70" stroke="#000" stroke-width="1.4" />
<text x="274.80" y="552.90" font-size="8.8" font-weight="700" text-anchor="end" fill="#000" >1</text>
<line x1="277.50" y1="532.45" x2="280.80" y2="532.45" stroke="#000" stroke-width="1.0" />
<line x1="277.50" y1="522.36" x2="280.80" y2="522.36" stroke="#000" stroke-width="1.0" />
<line x1="277.50" y1="515.20" x2="280.80" y2="515.20" stroke="#000" stroke-width="1.0" />
<line x1="277.50" y1="509.65" x2="280.80" y2="509.65" stroke="#000" stroke-width="1.0" />
<line x1="277.50" y1="505.11" x2="280.80" y2="505.11" stroke="#000" stroke-width="1.0" />
<line x1="277.50" y1="501.28" x2="280.80" y2="501.28" stroke="#000" stroke-width="1.0" />
<line x1="277.50" y1="497.95" x2="280.80" y2="497.95" stroke="#000" stroke-width="1.0" />
<line x1="277.50" y1="495.02" x2="280.80" y2="495.02" stroke="#000" stroke-width="1.0" />
<line x1="275.80" y1="492.40" x2="280.80" y2="492.40" stroke="#000" stroke-width="1.4" />
<text x="274.80" y="495.60" font-size="8.8" font-weight="700" text-anchor="end" fill="#000" >10</text>
<line x1="277.50" y1="475.15" x2="280.80" y2="475.15" stroke="#000" stroke-width="1.0" />
<line x1="277.50" y1="465.06" x2="280.80" y2="465.06" stroke="#000" stroke-width="1.0" />
<line x1="277.50" y1="457.90" x2="280.80" y2="457.90" stroke="#000" stroke-width="1.0" />
<line x1="277.50" y1="452.35" x2="280.80" y2="452.35" stroke="#000" stroke-width="1.0" />
<line x1="277.50" y1="447.81" x2="280.80" y2="447.81" stroke="#000" stroke-width="1.0" />
<line x1="277.50" y1="443.98" x2="280.80" y2="443.98" stroke="#000" stroke-width="1.0" />
<line x1="277.50" y1="440.65" x2="280.80" y2="440.65" stroke="#000" stroke-width="1.0" />
<line x1="277.50" y1="437.72" x2="280.80" y2="437.72" stroke="#000" stroke-width="1.0" />
<line x1="275.80" y1="435.10" x2="280.80" y2="435.10" stroke="#000" stroke-width="1.4" />
<text x="274.80" y="438.30" font-size="8.8" font-weight="700" text-anchor="end" fill="#000" >100</text>
<line x1="296.40" y1="549.70" x2="296.40" y2="554.50" stroke="#000" stroke-width="1.4" />
<line x1="318.80" y1="549.70" x2="318.80" y2="554.50" stroke="#000" stroke-width="1.4" />
<line x1="341.90" y1="549.70" x2="341.90" y2="554.50" stroke="#000" stroke-width="1.4" />
<text x="255.20" y="492.00" font-size="9.5" font-weight="700" text-anchor="middle" fill="#000" transform="rotate(-90 255.20 492.00)" >Percent of Human Cells</text>
<rect x="359.95" y="436.85" width="11.80" height="5.50" fill="#000" stroke="#000" stroke-width="1.3"/>
<text x="375.90" y="442.70" font-size="8.6" font-weight="400" text-anchor="start" fill="#222" >Mock</text>
<rect x="359.95" y="448.85" width="11.80" height="5.50" fill="#0000c8" stroke="#000" stroke-width="1.3"/>
<text x="375.90" y="454.70" font-size="8.6" font-weight="400" text-anchor="start" fill="#222" >10-1074</text>
<rect x="359.95" y="460.95" width="11.80" height="5.50" fill="#a010e0" stroke="#000" stroke-width="1.3"/>
<text x="375.90" y="466.80" font-size="8.6" font-weight="400" text-anchor="start" fill="#222" >Ibalizumab</text>
<rect x="359.95" y="472.75" width="11.80" height="5.50" fill="#c8005a" stroke="#000" stroke-width="1.3"/>
<text x="375.90" y="478.60" font-size="8.6" font-weight="400" text-anchor="start" fill="#222" >10-1074+Ibalizumab</text>
<circle cx="302.19" cy="444.31" r="1.95" fill="#000"/>
<circle cx="300.48" cy="449.44" r="1.95" fill="#000"/>
<circle cx="296.01" cy="450.23" r="1.95" fill="#000"/>
<circle cx="296.01" cy="459.95" r="1.95" fill="#000"/>
<circle cx="294.31" cy="445.37" r="1.95" fill="#000"/>
<circle cx="290.37" cy="444.71" r="1.95" fill="#d0105e"/>
<circle cx="292.07" cy="442.47" r="1.95" fill="#d0105e"/>
<circle cx="293.65" cy="453.25" r="1.95" fill="#d0105e"/>
<circle cx="295.62" cy="455.88" r="1.95" fill="#d0105e"/>
<circle cx="300.48" cy="445.37" r="1.95" fill="#d0105e"/>
<circle cx="293.65" cy="441.82" r="1.95" fill="#bb1ee8"/>
<circle cx="291.68" cy="447.60" r="1.95" fill="#bb1ee8"/>
<circle cx="298.64" cy="456.27" r="1.95" fill="#bb1ee8"/>
<circle cx="298.64" cy="444.71" r="1.95" fill="#bb1ee8"/>
<circle cx="295.62" cy="444.45" r="1.95" fill="#0a0acc"/>
<circle cx="293.65" cy="449.96" r="1.95" fill="#0a0acc"/>
<circle cx="300.48" cy="452.85" r="1.95" fill="#0a0acc"/>
<circle cx="297.33" cy="446.68" r="1.95" fill="#0a0acc"/>
<circle cx="319.01" cy="458.11" r="1.95" fill="#000"/>
<circle cx="313.10" cy="468.10" r="1.95" fill="#000"/>
<circle cx="319.01" cy="468.36" r="1.95" fill="#000"/>
<circle cx="315.99" cy="477.29" r="1.95" fill="#000"/>
<circle cx="315.99" cy="481.50" r="1.95" fill="#000"/>
<circle cx="322.16" cy="461.13" r="1.95" fill="#d0105e"/>
<circle cx="322.16" cy="466.12" r="1.95" fill="#d0105e"/>
<circle cx="322.16" cy="478.21" r="1.95" fill="#d0105e"/>
<circle cx="315.99" cy="485.70" r="1.95" fill="#d0105e"/>
<circle cx="319.27" cy="484.12" r="1.95" fill="#d0105e"/>
<circle cx="319.01" cy="462.18" r="1.95" fill="#bb1ee8"/>
<circle cx="313.10" cy="478.48" r="1.95" fill="#bb1ee8"/>
<circle cx="322.16" cy="486.49" r="1.95" fill="#bb1ee8"/>
<circle cx="319.01" cy="495.95" r="1.95" fill="#bb1ee8"/>
<circle cx="325.18" cy="466.78" r="1.95" fill="#0a0acc"/>
<circle cx="315.99" cy="470.33" r="1.95" fill="#0a0acc"/>
<circle cx="325.18" cy="476.50" r="1.95" fill="#0a0acc"/>
<circle cx="319.01" cy="478.61" r="1.95" fill="#0a0acc"/>
<circle cx="319.01" cy="490.43" r="1.95" fill="#0a0acc"/>
<circle cx="338.32" cy="471.91" r="1.95" fill="#000"/>
<circle cx="335.69" cy="479.13" r="1.95" fill="#000"/>
<circle cx="340.95" cy="480.45" r="1.95" fill="#000"/>
<circle cx="338.32" cy="485.18" r="1.95" fill="#000"/>
<circle cx="346.21" cy="478.21" r="1.95" fill="#000"/>
<circle cx="343.31" cy="467.83" r="1.95" fill="#d0105e"/>
<circle cx="338.32" cy="481.23" r="1.95" fill="#d0105e"/>
<circle cx="343.31" cy="478.21" r="1.95" fill="#d0105e"/>
<circle cx="345.55" cy="482.15" r="1.95" fill="#d0105e"/>
<circle cx="345.55" cy="487.15" r="1.95" fill="#d0105e"/>
<circle cx="340.95" cy="473.22" r="1.95" fill="#bb1ee8"/>
<circle cx="347.78" cy="471.91" r="1.95" fill="#bb1ee8"/>
<circle cx="345.55" cy="474.53" r="1.95" fill="#bb1ee8"/>
<circle cx="338.32" cy="489.77" r="1.95" fill="#bb1ee8"/>
<circle cx="340.95" cy="465.07" r="1.95" fill="#0a0acc"/>
<circle cx="343.31" cy="463.10" r="1.95" fill="#0a0acc"/>
<circle cx="343.31" cy="472.56" r="1.95" fill="#0a0acc"/>
<circle cx="347.78" cy="478.21" r="1.95" fill="#0a0acc"/>
<circle cx="343.31" cy="488.07" r="1.95" fill="#0a0acc"/>
<text x="299.20" y="562.70" font-size="8.5" font-weight="700" text-anchor="end" transform="rotate(-45 299.20 562.70)">CD19<tspan font-size="5.5" dx="0.4" dy="-5.0">+</tspan></text>
<text x="321.60" y="562.70" font-size="8.5" font-weight="700" text-anchor="end" transform="rotate(-45 321.60 562.70)">CD33<tspan font-size="5.5" dx="0.4" dy="-5.0">+</tspan></text>
<text x="344.70" y="562.70" font-size="8.5" font-weight="700" text-anchor="end" transform="rotate(-45 344.70 562.70)">Other</text>
<text x="446.50" y="397.50" font-size="18" font-weight="700" text-anchor="start" fill="#000" >g</text>
<text x="546.60" y="419.40" font-size="11" font-weight="700" text-anchor="middle" fill="#000" >Spleen Lineage Formation</text>
<line x1="508.30" y1="434.94" x2="508.30" y2="550.15" stroke="#000" stroke-width="1.4" />
<line x1="507.65" y1="549.50" x2="585.50" y2="549.50" stroke="#000" stroke-width="1.4" />
<line x1="503.30" y1="549.50" x2="508.30" y2="549.50" stroke="#000" stroke-width="1.4" />
<text x="502.30" y="552.70" font-size="8.8" font-weight="700" text-anchor="end" fill="#000" >0.1</text>
<line x1="505.00" y1="538.07" x2="508.30" y2="538.07" stroke="#000" stroke-width="1.0" />
<line x1="505.00" y1="531.38" x2="508.30" y2="531.38" stroke="#000" stroke-width="1.0" />
<line x1="505.00" y1="526.64" x2="508.30" y2="526.64" stroke="#000" stroke-width="1.0" />
<line x1="505.00" y1="522.96" x2="508.30" y2="522.96" stroke="#000" stroke-width="1.0" />
<line x1="505.00" y1="519.95" x2="508.30" y2="519.95" stroke="#000" stroke-width="1.0" />
<line x1="505.00" y1="517.41" x2="508.30" y2="517.41" stroke="#000" stroke-width="1.0" />
<line x1="505.00" y1="515.21" x2="508.30" y2="515.21" stroke="#000" stroke-width="1.0" />
<line x1="505.00" y1="513.27" x2="508.30" y2="513.27" stroke="#000" stroke-width="1.0" />
<line x1="503.30" y1="511.53" x2="508.30" y2="511.53" stroke="#000" stroke-width="1.4" />
<text x="502.30" y="514.73" font-size="8.8" font-weight="700" text-anchor="end" fill="#000" >1</text>
<line x1="505.00" y1="500.10" x2="508.30" y2="500.10" stroke="#000" stroke-width="1.0" />
<line x1="505.00" y1="493.41" x2="508.30" y2="493.41" stroke="#000" stroke-width="1.0" />
<line x1="505.00" y1="488.67" x2="508.30" y2="488.67" stroke="#000" stroke-width="1.0" />
<line x1="505.00" y1="484.99" x2="508.30" y2="484.99" stroke="#000" stroke-width="1.0" />
<line x1="505.00" y1="481.98" x2="508.30" y2="481.98" stroke="#000" stroke-width="1.0" />
<line x1="505.00" y1="479.44" x2="508.30" y2="479.44" stroke="#000" stroke-width="1.0" />
<line x1="505.00" y1="477.24" x2="508.30" y2="477.24" stroke="#000" stroke-width="1.0" />
<line x1="505.00" y1="475.30" x2="508.30" y2="475.30" stroke="#000" stroke-width="1.0" />
<line x1="503.30" y1="473.56" x2="508.30" y2="473.56" stroke="#000" stroke-width="1.4" />
<text x="502.30" y="476.76" font-size="8.8" font-weight="700" text-anchor="end" fill="#000" >10</text>
<line x1="505.00" y1="462.13" x2="508.30" y2="462.13" stroke="#000" stroke-width="1.0" />
<line x1="505.00" y1="455.44" x2="508.30" y2="455.44" stroke="#000" stroke-width="1.0" />
<line x1="505.00" y1="450.70" x2="508.30" y2="450.70" stroke="#000" stroke-width="1.0" />
<line x1="505.00" y1="447.02" x2="508.30" y2="447.02" stroke="#000" stroke-width="1.0" />
<line x1="505.00" y1="444.01" x2="508.30" y2="444.01" stroke="#000" stroke-width="1.0" />
<line x1="505.00" y1="441.47" x2="508.30" y2="441.47" stroke="#000" stroke-width="1.0" />
<line x1="505.00" y1="439.27" x2="508.30" y2="439.27" stroke="#000" stroke-width="1.0" />
<line x1="505.00" y1="437.33" x2="508.30" y2="437.33" stroke="#000" stroke-width="1.0" />
<line x1="503.30" y1="435.59" x2="508.30" y2="435.59" stroke="#000" stroke-width="1.4" />
<text x="502.30" y="438.79" font-size="8.8" font-weight="700" text-anchor="end" fill="#000" >100</text>
<line x1="523.60" y1="549.50" x2="523.60" y2="554.30" stroke="#000" stroke-width="1.4" />
<line x1="546.80" y1="549.50" x2="546.80" y2="554.30" stroke="#000" stroke-width="1.4" />
<line x1="569.90" y1="549.50" x2="569.90" y2="554.30" stroke="#000" stroke-width="1.4" />
<text x="483.20" y="492.00" font-size="9.5" font-weight="700" text-anchor="middle" fill="#000" transform="rotate(-90 483.20 492.00)" >Percent of Human Cells</text>
<rect x="590.65" y="436.85" width="11.40" height="5.50" fill="#000" stroke="#000" stroke-width="1.3"/>
<text x="605.80" y="442.70" font-size="8.6" font-weight="400" text-anchor="start" fill="#222" >Mock</text>
<rect x="590.65" y="448.75" width="11.40" height="5.50" fill="#0000c8" stroke="#000" stroke-width="1.3"/>
<text x="605.80" y="454.60" font-size="8.6" font-weight="400" text-anchor="start" fill="#222" >10-1074</text>
<rect x="590.65" y="460.55" width="11.40" height="5.50" fill="#a010e0" stroke="#000" stroke-width="1.3"/>
<text x="605.80" y="466.40" font-size="8.6" font-weight="400" text-anchor="start" fill="#222" >Ibalizumab</text>
<rect x="590.65" y="472.45" width="11.40" height="5.50" fill="#c8005a" stroke="#000" stroke-width="1.3"/>
<text x="605.80" y="478.30" font-size="8.6" font-weight="400" text-anchor="start" fill="#222" >10-1074+Ibalizumab</text>
<circle cx="518.41" cy="436.69" r="1.95" fill="#0a0acc"/>
<circle cx="519.22" cy="438.31" r="1.95" fill="#0a0acc"/>
<circle cx="528.15" cy="438.80" r="1.95" fill="#0a0acc"/>
<circle cx="526.53" cy="437.66" r="1.95" fill="#000"/>
<circle cx="529.77" cy="437.99" r="1.95" fill="#bb1ee8"/>
<circle cx="524.09" cy="437.99" r="1.95" fill="#bb1ee8"/>
<circle cx="521.66" cy="438.80" r="1.95" fill="#d0105e"/>
<circle cx="523.28" cy="439.94" r="1.95" fill="#d0105e"/>
<circle cx="524.90" cy="437.99" r="1.95" fill="#d0105e"/>
<circle cx="520.84" cy="439.94" r="1.95" fill="#d0105e"/>
<circle cx="545.68" cy="499.68" r="1.95" fill="#000"/>
<circle cx="550.55" cy="498.05" r="1.95" fill="#000"/>
<circle cx="546.49" cy="504.87" r="1.95" fill="#000"/>
<circle cx="546.82" cy="513.47" r="1.95" fill="#000"/>
<circle cx="542.76" cy="489.61" r="1.95" fill="#0a0acc"/>
<circle cx="553.31" cy="489.45" r="1.95" fill="#0a0acc"/>
<circle cx="548.12" cy="492.86" r="1.95" fill="#0a0acc"/>
<circle cx="543.25" cy="496.10" r="1.95" fill="#0a0acc"/>
<circle cx="545.19" cy="489.12" r="1.95" fill="#bb1ee8"/>
<circle cx="550.55" cy="490.42" r="1.95" fill="#bb1ee8"/>
<circle cx="546.82" cy="519.97" r="1.95" fill="#bb1ee8"/>
<circle cx="546.82" cy="485.55" r="1.95" fill="#d0105e"/>
<circle cx="540.65" cy="491.23" r="1.95" fill="#d0105e"/>
<circle cx="545.19" cy="492.86" r="1.95" fill="#d0105e"/>
<circle cx="547.63" cy="497.24" r="1.95" fill="#d0105e"/>
<circle cx="563.86" cy="465.58" r="1.95" fill="#000"/>
<circle cx="575.71" cy="464.29" r="1.95" fill="#000"/>
<circle cx="563.86" cy="470.45" r="1.95" fill="#000"/>
<circle cx="568.73" cy="467.53" r="1.95" fill="#0a0acc"/>
<circle cx="571.17" cy="468.51" r="1.95" fill="#0a0acc"/>
<circle cx="569.87" cy="480.52" r="1.95" fill="#0a0acc"/>
<circle cx="567.60" cy="462.34" r="1.95" fill="#bb1ee8"/>
<circle cx="565.49" cy="467.21" r="1.95" fill="#bb1ee8"/>
<circle cx="569.87" cy="472.40" r="1.95" fill="#bb1ee8"/>
<circle cx="572.79" cy="466.88" r="1.95" fill="#bb1ee8"/>
<circle cx="571.98" cy="462.82" r="1.95" fill="#d0105e"/>
<circle cx="574.42" cy="468.51" r="1.95" fill="#d0105e"/>
<circle cx="567.60" cy="470.45" r="1.95" fill="#d0105e"/>
<circle cx="571.98" cy="471.75" r="1.95" fill="#d0105e"/>
<circle cx="576.04" cy="468.51" r="1.95" fill="#d0105e"/>
<text x="526.40" y="562.50" font-size="8.5" font-weight="700" text-anchor="end" transform="rotate(-45 526.40 562.50)">CD19<tspan font-size="5.5" dx="0.4" dy="-5.0">+</tspan></text>
<text x="549.60" y="562.50" font-size="8.5" font-weight="700" text-anchor="end" transform="rotate(-45 549.60 562.50)">CD33<tspan font-size="5.5" dx="0.4" dy="-5.0">+</tspan></text>
<text x="572.70" y="562.50" font-size="8.5" font-weight="700" text-anchor="end" transform="rotate(-45 572.70 562.50)">Other</text>
<text x="0.50" y="655.00" font-size="18" font-weight="700" text-anchor="start" fill="#000" >h</text>
<text x="103.00" y="670.20" font-size="11" font-weight="700" text-anchor="middle" fill="#000" >Targeted Integration</text>
<text x="103.00" y="682.80" font-size="11" font-weight="700" text-anchor="middle" fill="#000" >at Endpoint</text>
<line x1="64.90" y1="693.16" x2="64.90" y2="808.55" stroke="#000" stroke-width="1.4" />
<line x1="64.25" y1="807.90" x2="142.00" y2="807.90" stroke="#000" stroke-width="1.4" />
<line x1="59.90" y1="807.90" x2="64.90" y2="807.90" stroke="#000" stroke-width="1.4" />
<text x="58.90" y="811.10" font-size="8.8" font-weight="700" text-anchor="end" fill="#000" >0.01</text>
<line x1="61.60" y1="796.45" x2="64.90" y2="796.45" stroke="#000" stroke-width="1.0" />
<line x1="61.60" y1="789.76" x2="64.90" y2="789.76" stroke="#000" stroke-width="1.0" />
<line x1="61.60" y1="785.00" x2="64.90" y2="785.00" stroke="#000" stroke-width="1.0" />
<line x1="61.60" y1="781.32" x2="64.90" y2="781.32" stroke="#000" stroke-width="1.0" />
<line x1="61.60" y1="778.31" x2="64.90" y2="778.31" stroke="#000" stroke-width="1.0" />
<line x1="61.60" y1="775.76" x2="64.90" y2="775.76" stroke="#000" stroke-width="1.0" />
<line x1="61.60" y1="773.56" x2="64.90" y2="773.56" stroke="#000" stroke-width="1.0" />
<line x1="61.60" y1="771.61" x2="64.90" y2="771.61" stroke="#000" stroke-width="1.0" />
<line x1="59.90" y1="769.87" x2="64.90" y2="769.87" stroke="#000" stroke-width="1.4" />
<text x="58.90" y="773.07" font-size="8.8" font-weight="700" text-anchor="end" fill="#000" >0.1</text>
<line x1="61.60" y1="758.42" x2="64.90" y2="758.42" stroke="#000" stroke-width="1.0" />
<line x1="61.60" y1="751.73" x2="64.90" y2="751.73" stroke="#000" stroke-width="1.0" />
<line x1="61.60" y1="746.97" x2="64.90" y2="746.97" stroke="#000" stroke-width="1.0" />
<line x1="61.60" y1="743.29" x2="64.90" y2="743.29" stroke="#000" stroke-width="1.0" />
<line x1="61.60" y1="740.28" x2="64.90" y2="740.28" stroke="#000" stroke-width="1.0" />
<line x1="61.60" y1="737.73" x2="64.90" y2="737.73" stroke="#000" stroke-width="1.0" />
<line x1="61.60" y1="735.53" x2="64.90" y2="735.53" stroke="#000" stroke-width="1.0" />
<line x1="61.60" y1="733.58" x2="64.90" y2="733.58" stroke="#000" stroke-width="1.0" />
<line x1="59.90" y1="731.84" x2="64.90" y2="731.84" stroke="#000" stroke-width="1.4" />
<text x="58.90" y="735.04" font-size="8.8" font-weight="700" text-anchor="end" fill="#000" >1</text>
<line x1="61.60" y1="720.39" x2="64.90" y2="720.39" stroke="#000" stroke-width="1.0" />
<line x1="61.60" y1="713.70" x2="64.90" y2="713.70" stroke="#000" stroke-width="1.0" />
<line x1="61.60" y1="708.94" x2="64.90" y2="708.94" stroke="#000" stroke-width="1.0" />
<line x1="61.60" y1="705.26" x2="64.90" y2="705.26" stroke="#000" stroke-width="1.0" />
<line x1="61.60" y1="702.25" x2="64.90" y2="702.25" stroke="#000" stroke-width="1.0" />
<line x1="61.60" y1="699.70" x2="64.90" y2="699.70" stroke="#000" stroke-width="1.0" />
<line x1="61.60" y1="697.50" x2="64.90" y2="697.50" stroke="#000" stroke-width="1.0" />
<line x1="61.60" y1="695.55" x2="64.90" y2="695.55" stroke="#000" stroke-width="1.0" />
<line x1="59.90" y1="693.81" x2="64.90" y2="693.81" stroke="#000" stroke-width="1.4" />
<text x="58.90" y="697.01" font-size="8.8" font-weight="700" text-anchor="end" fill="#000" >10</text>
<line x1="86.60" y1="807.90" x2="86.60" y2="812.70" stroke="#000" stroke-width="1.4" />
<line x1="119.00" y1="807.90" x2="119.00" y2="812.70" stroke="#000" stroke-width="1.4" />
<text x="89.40" y="820.90" font-size="8.5" font-weight="700" text-anchor="end" fill="#000" transform="rotate(-45 89.40 820.90)" >Bone Marrow</text>
<text x="121.80" y="820.90" font-size="8.5" font-weight="700" text-anchor="end" fill="#000" transform="rotate(-45 121.80 820.90)" >Spleen</text>
<text x="35.60" y="751.00" font-size="9.5" font-weight="700" text-anchor="middle" fill="#000" transform="rotate(-90 35.60 751.00)" >Percent KI Alleles</text>
<rect x="136.75" y="696.95" width="11.50" height="5.30" fill="#0000c8" stroke="#000" stroke-width="1.3"/>
<text x="152.10" y="702.70" font-size="8.6" font-weight="400" text-anchor="start" fill="#222" >10-1074</text>
<rect x="136.75" y="708.85" width="11.50" height="5.30" fill="#a010e0" stroke="#000" stroke-width="1.3"/>
<text x="152.10" y="714.60" font-size="8.6" font-weight="400" text-anchor="start" fill="#222" >Ibalizumab</text>
<rect x="136.75" y="720.75" width="11.50" height="5.30" fill="#c8005a" stroke="#000" stroke-width="1.3"/>
<text x="152.10" y="726.50" font-size="8.6" font-weight="400" text-anchor="start" fill="#222" >10-1074+Ibalizumab</text>
<line x1="75.70" y1="716.60" x2="97.50" y2="716.60" stroke="#000" stroke-width="1.5" />
<line x1="108.30" y1="745.20" x2="130.30" y2="745.20" stroke="#000" stroke-width="1.5" />
<circle cx="79.67" cy="704.75" r="1.95" fill="#d0105e"/>
<circle cx="93.48" cy="702.18" r="1.95" fill="#d0105e"/>
<circle cx="83.04" cy="715.51" r="1.95" fill="#d0105e"/>
<circle cx="86.57" cy="722.42" r="1.95" fill="#d0105e"/>
<circle cx="86.57" cy="765.62" r="1.95" fill="#d0105e"/>
<circle cx="79.67" cy="708.29" r="1.95" fill="#bb1ee8"/>
<circle cx="93.48" cy="706.36" r="1.95" fill="#bb1ee8"/>
<circle cx="93.48" cy="727.24" r="1.95" fill="#bb1ee8"/>
<circle cx="90.26" cy="751.97" r="1.95" fill="#bb1ee8"/>
<circle cx="86.57" cy="707.80" r="1.95" fill="#0a0acc"/>
<circle cx="90.26" cy="715.19" r="1.95" fill="#0a0acc"/>
<circle cx="86.57" cy="729.48" r="1.95" fill="#0a0acc"/>
<circle cx="86.57" cy="744.74" r="1.95" fill="#0a0acc"/>
<circle cx="83.04" cy="749.72" r="1.95" fill="#0a0acc"/>
<circle cx="119.01" cy="718.72" r="1.95" fill="#d0105e"/>
<circle cx="119.01" cy="745.54" r="1.95" fill="#d0105e"/>
<circle cx="119.01" cy="790.19" r="1.95" fill="#d0105e"/>
<circle cx="112.27" cy="744.74" r="1.95" fill="#bb1ee8"/>
<circle cx="126.24" cy="744.74" r="1.95" fill="#bb1ee8"/>
<circle cx="119.01" cy="781.68" r="1.95" fill="#bb1ee8"/>
<circle cx="119.01" cy="730.29" r="1.95" fill="#0a0acc"/>
<circle cx="119.01" cy="771.72" r="1.95" fill="#0a0acc"/>
<circle cx="119.01" cy="785.37" r="1.95" fill="#0a0acc"/>
<text x="226.00" y="655.00" font-size="18" font-weight="700" text-anchor="start" fill="#000" >i</text>
<text x="319.2" y="670.2" font-size="11" font-weight="700" text-anchor="middle">Targeted Integration in</text>
<text x="319.2" y="685.2" font-size="11" font-weight="700" text-anchor="middle">Bone Marrow CD19<tspan font-size="7" dy="-4.5">+</tspan><tspan dy="4.5"> Cells</tspan></text>
<line x1="280.60" y1="693.16" x2="280.60" y2="808.55" stroke="#000" stroke-width="1.4" />
<line x1="279.95" y1="807.90" x2="357.60" y2="807.90" stroke="#000" stroke-width="1.4" />
<line x1="275.60" y1="807.90" x2="280.60" y2="807.90" stroke="#000" stroke-width="1.4" />
<text x="274.60" y="811.10" font-size="8.8" font-weight="700" text-anchor="end" fill="#000" >0.01</text>
<line x1="277.30" y1="796.45" x2="280.60" y2="796.45" stroke="#000" stroke-width="1.0" />
<line x1="277.30" y1="789.76" x2="280.60" y2="789.76" stroke="#000" stroke-width="1.0" />
<line x1="277.30" y1="785.00" x2="280.60" y2="785.00" stroke="#000" stroke-width="1.0" />
<line x1="277.30" y1="781.32" x2="280.60" y2="781.32" stroke="#000" stroke-width="1.0" />
<line x1="277.30" y1="778.31" x2="280.60" y2="778.31" stroke="#000" stroke-width="1.0" />
<line x1="277.30" y1="775.76" x2="280.60" y2="775.76" stroke="#000" stroke-width="1.0" />
<line x1="277.30" y1="773.56" x2="280.60" y2="773.56" stroke="#000" stroke-width="1.0" />
<line x1="277.30" y1="771.61" x2="280.60" y2="771.61" stroke="#000" stroke-width="1.0" />
<line x1="275.60" y1="769.87" x2="280.60" y2="769.87" stroke="#000" stroke-width="1.4" />
<text x="274.60" y="773.07" font-size="8.8" font-weight="700" text-anchor="end" fill="#000" >0.1</text>
<line x1="277.30" y1="758.42" x2="280.60" y2="758.42" stroke="#000" stroke-width="1.0" />
<line x1="277.30" y1="751.73" x2="280.60" y2="751.73" stroke="#000" stroke-width="1.0" />
<line x1="277.30" y1="746.97" x2="280.60" y2="746.97" stroke="#000" stroke-width="1.0" />
<line x1="277.30" y1="743.29" x2="280.60" y2="743.29" stroke="#000" stroke-width="1.0" />
<line x1="277.30" y1="740.28" x2="280.60" y2="740.28" stroke="#000" stroke-width="1.0" />
<line x1="277.30" y1="737.73" x2="280.60" y2="737.73" stroke="#000" stroke-width="1.0" />
<line x1="277.30" y1="735.53" x2="280.60" y2="735.53" stroke="#000" stroke-width="1.0" />
<line x1="277.30" y1="733.58" x2="280.60" y2="733.58" stroke="#000" stroke-width="1.0" />
<line x1="275.60" y1="731.84" x2="280.60" y2="731.84" stroke="#000" stroke-width="1.4" />
<text x="274.60" y="735.04" font-size="8.8" font-weight="700" text-anchor="end" fill="#000" >1</text>
<line x1="277.30" y1="720.39" x2="280.60" y2="720.39" stroke="#000" stroke-width="1.0" />
<line x1="277.30" y1="713.70" x2="280.60" y2="713.70" stroke="#000" stroke-width="1.0" />
<line x1="277.30" y1="708.94" x2="280.60" y2="708.94" stroke="#000" stroke-width="1.0" />
<line x1="277.30" y1="705.26" x2="280.60" y2="705.26" stroke="#000" stroke-width="1.0" />
<line x1="277.30" y1="702.25" x2="280.60" y2="702.25" stroke="#000" stroke-width="1.0" />
<line x1="277.30" y1="699.70" x2="280.60" y2="699.70" stroke="#000" stroke-width="1.0" />
<line x1="277.30" y1="697.50" x2="280.60" y2="697.50" stroke="#000" stroke-width="1.0" />
<line x1="277.30" y1="695.55" x2="280.60" y2="695.55" stroke="#000" stroke-width="1.0" />
<line x1="275.60" y1="693.81" x2="280.60" y2="693.81" stroke="#000" stroke-width="1.4" />
<text x="274.60" y="697.01" font-size="8.8" font-weight="700" text-anchor="end" fill="#000" >10</text>
<line x1="302.60" y1="807.90" x2="302.60" y2="812.70" stroke="#000" stroke-width="1.4" />
<line x1="335.40" y1="807.90" x2="335.40" y2="812.70" stroke="#000" stroke-width="1.4" />
<text x="305.40" y="820.90" font-size="8.5" font-weight="700" text-anchor="end" transform="rotate(-45 305.40 820.90)">Bulk Cells</text>
<text x="338.20" y="820.90" font-size="8.5" font-weight="700" text-anchor="end" transform="rotate(-45 338.20 820.90)">CD19<tspan font-size="5.5" dx="0.4" dy="-5.0">+</tspan></text>
<text x="252.40" y="751.00" font-size="9.5" font-weight="700" text-anchor="middle" fill="#000" transform="rotate(-90 252.40 751.00)" >Percent KI Alleles</text>
<rect x="356.75" y="696.95" width="11.10" height="5.30" fill="#0000c8" stroke="#000" stroke-width="1.3"/>
<text x="371.70" y="702.70" font-size="8.6" font-weight="400" text-anchor="start" fill="#222" >10-1074</text>
<rect x="356.75" y="708.85" width="11.10" height="5.30" fill="#a010e0" stroke="#000" stroke-width="1.3"/>
<text x="371.70" y="714.60" font-size="8.6" font-weight="400" text-anchor="start" fill="#222" >Ibalizumab</text>
<rect x="356.75" y="720.75" width="11.10" height="5.30" fill="#c8005a" stroke="#000" stroke-width="1.3"/>
<text x="371.70" y="726.50" font-size="8.6" font-weight="400" text-anchor="start" fill="#222" >10-1074+Ibalizumab</text>
<line x1="302.60" y1="702.20" x2="335.40" y2="703.70" stroke="#111" stroke-width="0.8" />
<line x1="302.60" y1="704.40" x2="335.40" y2="718.00" stroke="#111" stroke-width="0.8" />
<line x1="302.60" y1="707.40" x2="335.40" y2="709.30" stroke="#111" stroke-width="0.8" />
<line x1="302.60" y1="707.40" x2="335.40" y2="730.40" stroke="#111" stroke-width="0.8" />
<line x1="302.60" y1="715.40" x2="335.40" y2="725.30" stroke="#111" stroke-width="0.8" />
<line x1="302.60" y1="727.30" x2="335.40" y2="739.10" stroke="#111" stroke-width="0.8" />
<line x1="302.60" y1="706.50" x2="335.40" y2="757.00" stroke="#111" stroke-width="0.8" />
<line x1="302.60" y1="715.40" x2="335.40" y2="762.40" stroke="#111" stroke-width="0.8" />
<line x1="302.60" y1="722.30" x2="335.40" y2="789.80" stroke="#111" stroke-width="0.8" />
<line x1="302.60" y1="729.30" x2="335.40" y2="796.50" stroke="#111" stroke-width="0.8" />
<line x1="302.60" y1="744.60" x2="335.40" y2="807.60" stroke="#111" stroke-width="0.8" />
<line x1="302.60" y1="749.30" x2="335.40" y2="796.50" stroke="#111" stroke-width="0.8" />
<line x1="302.60" y1="751.70" x2="335.40" y2="807.60" stroke="#111" stroke-width="0.8" />
<line x1="302.60" y1="765.50" x2="335.40" y2="807.60" stroke="#111" stroke-width="0.8" />
<circle cx="302.60" cy="702.20" r="1.95" fill="#d0105e"/>
<circle cx="302.60" cy="704.40" r="1.95" fill="#d0105e"/>
<circle cx="302.60" cy="707.40" r="1.95" fill="#bb1ee8"/>
<circle cx="302.60" cy="708.50" r="1.95" fill="#bb1ee8"/>
<circle cx="302.60" cy="715.40" r="1.95" fill="#d0105e"/>
<circle cx="302.60" cy="722.30" r="1.95" fill="#d0105e"/>
<circle cx="302.60" cy="727.30" r="1.95" fill="#bb1ee8"/>
<circle cx="302.60" cy="729.30" r="1.95" fill="#0a0acc"/>
<circle cx="302.60" cy="744.60" r="1.95" fill="#0a0acc"/>
<circle cx="302.60" cy="749.30" r="1.95" fill="#0a0acc"/>
<circle cx="302.60" cy="751.70" r="1.95" fill="#bb1ee8"/>
<circle cx="302.60" cy="765.50" r="1.95" fill="#d0105e"/>
<circle cx="335.40" cy="703.70" r="1.95" fill="#d0105e"/>
<circle cx="335.40" cy="709.30" r="1.95" fill="#bb1ee8"/>
<circle cx="335.40" cy="718.00" r="1.95" fill="#d0105e"/>
<circle cx="335.40" cy="725.30" r="1.95" fill="#0a0acc"/>
<circle cx="335.40" cy="730.40" r="1.95" fill="#bb1ee8"/>
<circle cx="335.40" cy="739.10" r="1.95" fill="#bb1ee8"/>
<circle cx="335.40" cy="757.00" r="1.95" fill="#0a0acc"/>
<circle cx="335.40" cy="762.40" r="1.95" fill="#d0105e"/>
<circle cx="335.40" cy="789.80" r="1.95" fill="#d0105e"/>
<circle cx="335.40" cy="796.50" r="1.95" fill="#bb1ee8"/>
<circle cx="335.40" cy="807.60" r="1.95" fill="#d0105e"/>
<line x1="302.90" y1="693.30" x2="335.70" y2="693.30" stroke="#000" stroke-width="1.3" />
<path d="M319.30,686.35 L319.30,691.85 M316.92,687.72 L321.68,690.47 M321.68,687.72 L316.92,690.47 " stroke="#111" stroke-width="0.95" fill="none" stroke-linecap="round"/>
<circle cx="319.30" cy="689.10" r="1.25" fill="#111"/>
<text x="446.00" y="655.00" font-size="18" font-weight="700" text-anchor="start" fill="#000" >j</text>
<text x="543.10" y="670.20" font-size="11" font-weight="700" text-anchor="middle" fill="#000" >INDELs at Endpoint</text>
<text x="543.10" y="682.80" font-size="11" font-weight="700" text-anchor="middle" fill="#000" >in Bone Marrow</text>
<line x1="508.50" y1="692.75" x2="508.50" y2="808.85" stroke="#000" stroke-width="1.4" />
<line x1="507.85" y1="808.20" x2="578.40" y2="808.20" stroke="#000" stroke-width="1.4" />
<line x1="503.50" y1="808.20" x2="508.50" y2="808.20" stroke="#000" stroke-width="1.4" />
<text x="502.50" y="811.40" font-size="8.8" font-weight="700" text-anchor="end" fill="#000" >1</text>
<line x1="505.20" y1="790.92" x2="508.50" y2="790.92" stroke="#000" stroke-width="1.0" />
<line x1="505.20" y1="780.81" x2="508.50" y2="780.81" stroke="#000" stroke-width="1.0" />
<line x1="505.20" y1="773.64" x2="508.50" y2="773.64" stroke="#000" stroke-width="1.0" />
<line x1="505.20" y1="768.08" x2="508.50" y2="768.08" stroke="#000" stroke-width="1.0" />
<line x1="505.20" y1="763.53" x2="508.50" y2="763.53" stroke="#000" stroke-width="1.0" />
<line x1="505.20" y1="759.69" x2="508.50" y2="759.69" stroke="#000" stroke-width="1.0" />
<line x1="505.20" y1="756.36" x2="508.50" y2="756.36" stroke="#000" stroke-width="1.0" />
<line x1="505.20" y1="753.43" x2="508.50" y2="753.43" stroke="#000" stroke-width="1.0" />
<line x1="503.50" y1="750.80" x2="508.50" y2="750.80" stroke="#000" stroke-width="1.4" />
<text x="502.50" y="754.00" font-size="8.8" font-weight="700" text-anchor="end" fill="#000" >10</text>
<line x1="505.20" y1="733.52" x2="508.50" y2="733.52" stroke="#000" stroke-width="1.0" />
<line x1="505.20" y1="723.41" x2="508.50" y2="723.41" stroke="#000" stroke-width="1.0" />
<line x1="505.20" y1="716.24" x2="508.50" y2="716.24" stroke="#000" stroke-width="1.0" />
<line x1="505.20" y1="710.68" x2="508.50" y2="710.68" stroke="#000" stroke-width="1.0" />
<line x1="505.20" y1="706.13" x2="508.50" y2="706.13" stroke="#000" stroke-width="1.0" />
<line x1="505.20" y1="702.29" x2="508.50" y2="702.29" stroke="#000" stroke-width="1.0" />
<line x1="505.20" y1="698.96" x2="508.50" y2="698.96" stroke="#000" stroke-width="1.0" />
<line x1="505.20" y1="696.03" x2="508.50" y2="696.03" stroke="#000" stroke-width="1.0" />
<line x1="503.50" y1="693.40" x2="508.50" y2="693.40" stroke="#000" stroke-width="1.4" />
<text x="502.50" y="696.60" font-size="8.8" font-weight="700" text-anchor="end" fill="#000" >100</text>
<line x1="543.50" y1="808.20" x2="543.50" y2="813.00" stroke="#000" stroke-width="1.4" />
<text x="543.50" y="822.50" font-size="8.8" font-weight="700" text-anchor="middle" fill="#000" >Bone Marrow</text>
<text x="482.00" y="751.00" font-size="9.5" font-weight="700" text-anchor="middle" fill="#000" transform="rotate(-90 482.00 751.00)" >Percent INDEL Allels</text>
<rect x="580.15" y="705.85" width="11.10" height="5.30" fill="#0000c8" stroke="#000" stroke-width="1.3"/>
<text x="595.60" y="711.60" font-size="8.6" font-weight="400" text-anchor="start" fill="#222" >10-1074</text>
<rect x="580.15" y="717.85" width="11.10" height="5.30" fill="#a010e0" stroke="#000" stroke-width="1.3"/>
<text x="595.60" y="723.60" font-size="8.6" font-weight="400" text-anchor="start" fill="#222" >Ibalizumab</text>
<rect x="580.15" y="729.15" width="11.10" height="5.30" fill="#c8005a" stroke="#000" stroke-width="1.3"/>
<text x="595.60" y="734.90" font-size="8.6" font-weight="400" text-anchor="start" fill="#222" >10-1074+Ibalizumab</text>
<line x1="526.20" y1="696.80" x2="560.70" y2="696.80" stroke="#333" stroke-width="1.5" />
<circle cx="527.88" cy="695.61" r="1.95" fill="#d0105e"/>
<circle cx="531.25" cy="695.94" r="1.95" fill="#d0105e"/>
<circle cx="537.98" cy="693.75" r="1.95" fill="#d0105e"/>
<circle cx="537.98" cy="697.63" r="1.95" fill="#d0105e"/>
<circle cx="559.02" cy="696.45" r="1.95" fill="#d0105e"/>
<circle cx="534.61" cy="694.76" r="1.95" fill="#0a0acc"/>
<circle cx="541.35" cy="696.78" r="1.95" fill="#0a0acc"/>
<circle cx="544.71" cy="695.61" r="1.95" fill="#0a0acc"/>
<circle cx="548.08" cy="697.12" r="1.95" fill="#0a0acc"/>
<circle cx="551.95" cy="694.60" r="1.95" fill="#0a0acc"/>
<circle cx="544.71" cy="699.65" r="1.95" fill="#bb1ee8"/>
<circle cx="555.32" cy="694.26" r="1.95" fill="#bb1ee8"/>
<circle cx="551.95" cy="698.80" r="1.95" fill="#bb1ee8"/>
<circle cx="543.03" cy="710.25" r="1.95" fill="#bb1ee8"/>
</svg>
</body></html>
